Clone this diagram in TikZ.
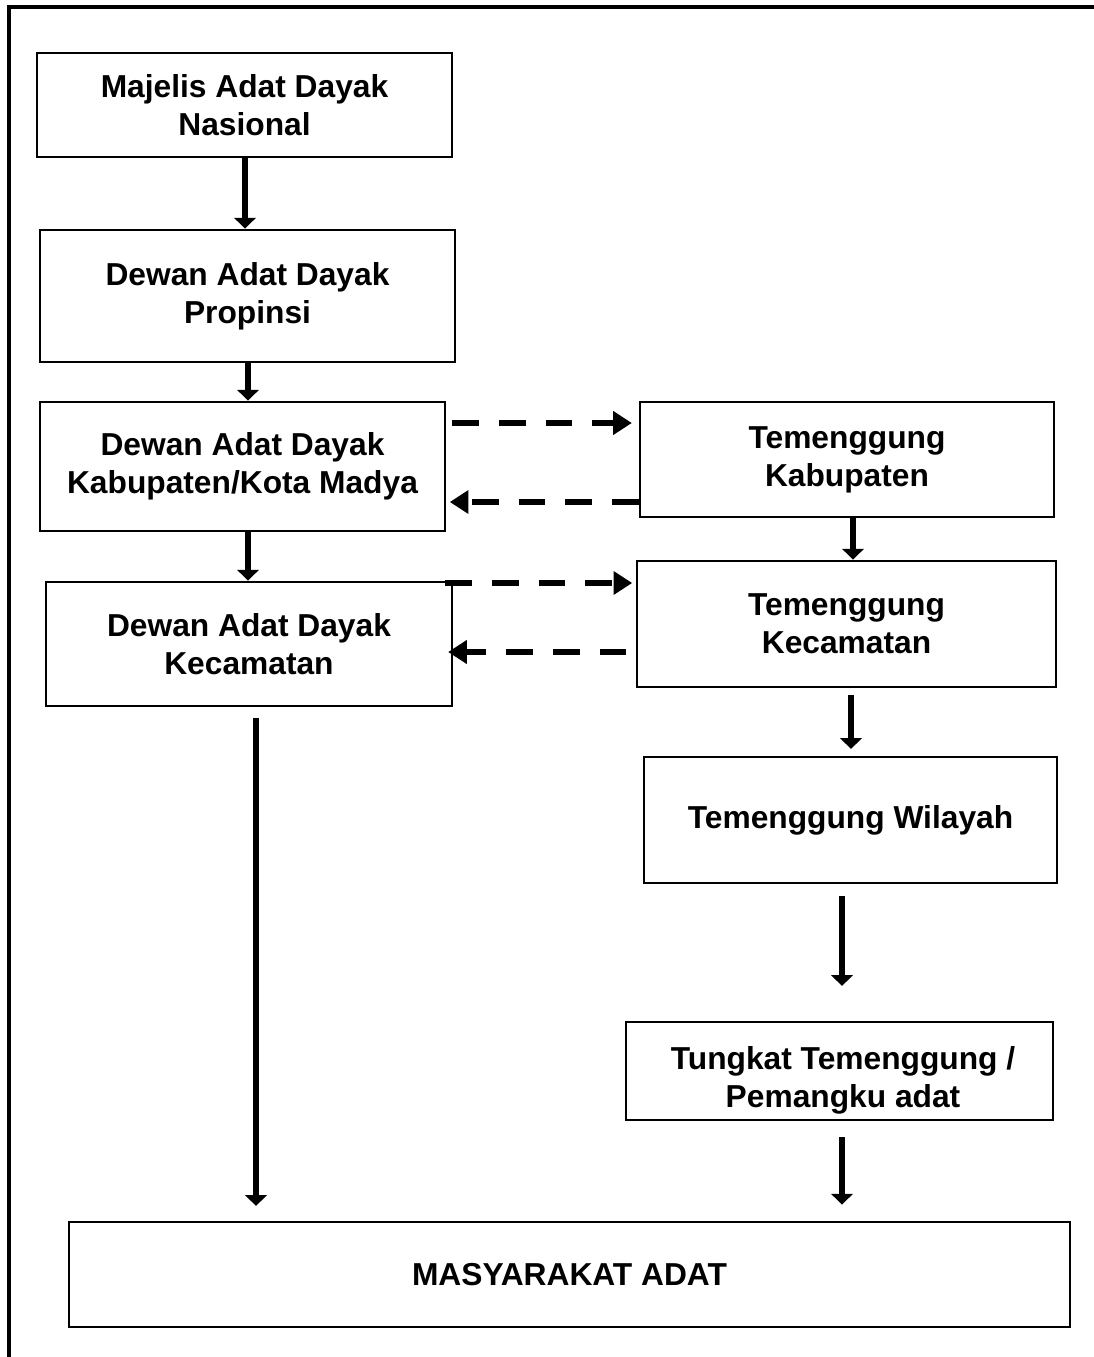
\documentclass[tikz,border=0pt]{standalone}
\usepackage{fontspec}
\setmainfont{Liberation Sans}
\usetikzlibrary{arrows.meta}
\begin{document}
\begin{tikzpicture}[x=0.75pt,y=-0.75pt,
  box/.style={draw, line width=2.2pt, rectangle, inner sep=0pt, align=center,
    font=\fontsize{23.8}{28.6}\selectfont\bfseries},
  txt/.style={inner sep=0pt, align=center, font=\fontsize{23.8}{28.6}\selectfont\bfseries},
  arr/.style={line width=5pt, -{Triangle[width=16pt,length=8pt]}},
  darr/.style={line width=4.5pt, dash pattern=on 20pt off 15pt, -{Triangle[width=17pt,length=14pt]}}]
\useasboundingbox (0,0) rectangle (1094,1357);
% outer frame
\coordinate (fa) at (9,1357);
\coordinate (fb) at (9,7);
\coordinate (fc) at (1094,7);
\draw[line width=2.4pt] (fa) -- (fb) -- (fc);
% left column
\node[box, minimum width=415*0.75pt, minimum height=104*0.75pt] (d1) at (244.5,105) {Majelis Adat Dayak\\Nasional};
\node[box, minimum width=415*0.75pt, minimum height=132*0.75pt] (d2) at (247.5,296) {Dewan Adat Dayak\\Propinsi};
\node[box, minimum width=405*0.75pt, minimum height=129*0.75pt] (d3) at (242.5,466.5) {Dewan Adat Dayak\\Kabupaten/Kota Madya};
\node[box, minimum width=406*0.75pt, minimum height=124*0.75pt] (d4) at (249,644) {Dewan Adat Dayak\\Kecamatan};
% right column
\node[box, minimum width=414*0.75pt, minimum height=115*0.75pt] (t1) at (847,459.5) {Temenggung\\Kabupaten};
\node[box, minimum width=419*0.75pt, minimum height=126*0.75pt] (t2) at (846.5,624) {Temenggung\\Kecamatan};
\node[box, minimum width=413*0.75pt, minimum height=126*0.75pt] (t3) at (850.5,820) {Temenggung Wilayah};
\node[box, minimum width=427*0.75pt, minimum height=98*0.75pt] (t4) at (839.5,1071) {};
\node[txt] (t4t) at (843,1080) {Tungkat Temenggung /\\Pemangku adat};
% bottom
\node[box, minimum width=1001*0.75pt, minimum height=105*0.75pt] (m) at (569.5,1274.5) {MASYARAKAT ADAT};
% solid arrows
\draw[arr] (d1.south -| 245,0) -- (d2.north -| 245,0);
\draw[arr] (d2.south -| 248,0) -- (d3.north -| 248,0);
\draw[arr] (d3.south -| 248,0) -- (d4.north -| 248,0);
\draw[arr, shorten <=8pt, shorten >=11pt] (d4.south -| 256,0) -- (m.north -| 256,0);
\draw[arr] (t1.south -| 853,0) -- (t2.north -| 853,0);
\draw[arr, shorten <=5pt, shorten >=5pt] (t2.south -| 851,0) -- (t3.north -| 851,0);
\draw[arr, shorten <=9pt, shorten >=26pt] (t3.south -| 842,0) -- (t4.north -| 842,0);
\draw[arr, shorten <=12pt, shorten >=12pt] (t4.south -| 842,0) -- (m.north -| 842,0);
% dashed arrows
\draw[darr, shorten <=4.5pt, shorten >=5pt] (d3.east |- 0,423) -- (t1.west |- 0,423);
\draw[darr, shorten >=2.5pt] (t1.west |- 0,502) -- (d3.east |- 0,502);
\draw[darr, shorten <=-6pt, shorten >=2.5pt] (d4.east |- 0,583) -- (t2.west |- 0,583);
\draw[darr, shorten <=7pt, shorten >=-4pt] (t2.west |- 0,652) -- (d4.east |- 0,652);
\end{tikzpicture}
\end{document}
